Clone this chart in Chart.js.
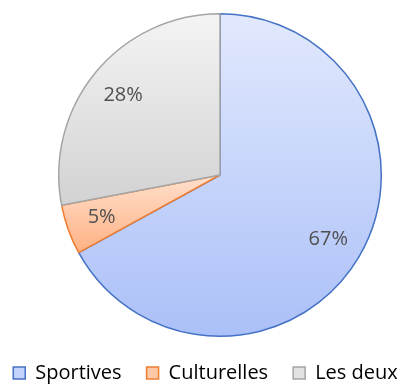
<!DOCTYPE html>
<html>
<head>
<meta charset="utf-8">
<script src="https://cdn.jsdelivr.net/npm/chart.js@4"></script>
<style>
  html, body { margin: 0; padding: 0; background: #ffffff; }
  #wrap { width: 401px; height: 384px; }
</style>
</head>
<body>
<div id="wrap"><canvas id="pieChart" width="401" height="384"></canvas></div>
<script>
const categories = ['Sportives', 'Culturelles', 'Les deux'];
const percentages = [67, 5, 28];

const borderColors = ['#4472c4', '#ed7d31', '#a5a5a5'];
const topColors = ['#e2e9fd', '#ffe0cd', '#f4f4f4'];
const bottomColors = ['#abc0f8', '#ffb183', '#d2d2d2'];
const legendFills = ['#c3d2fa', '#ffc9a8', '#e2e2e2'];

const FONT = '"Open Sans", sans-serif';
const TEXT_COLOR = '#595959';

// pie sits off-centre, legend runs under the whole width
const pieBox = { left: 58, top: 13, size: 324 };
const legendTop = 338;

function sliceAngles(i) {
    const total = percentages.reduce((a, b) => a + b, 0);
    let start = -Math.PI / 2;
    for (let k = 0; k < i; k++) start += percentages[k] / total * Math.PI * 2;
    return [start, start + percentages[i] / total * Math.PI * 2];
}

// vertical gradient over the bounding box of each slice
function sliceGradient(context) {
    const chart = context.chart;
    const area = chart.chartArea;
    if (!area) return legendFills[context.dataIndex];
    const i = context.dataIndex;
    const cx = (area.left + area.right) / 2;
    const cy = (area.top + area.bottom) / 2;
    const r = Math.min(area.width, area.height) / 2;
    const [a0, a1] = sliceAngles(i);
    let minY = cy, maxY = cy;
    for (let a = a0; a <= a1; a += 0.01) {
        const y = cy + r * Math.sin(a);
        minY = Math.min(minY, y);
        maxY = Math.max(maxY, y);
    }
    const y1 = cy + r * Math.sin(a1);
    minY = Math.min(minY, y1);
    maxY = Math.max(maxY, y1);
    const g = chart.ctx.createLinearGradient(0, minY, 0, maxY);
    g.addColorStop(0, topColors[i]);
    g.addColorStop(1, bottomColors[i]);
    return g;
}

const placePie = {
    id: 'placePie',
    afterLayout(chart) {
        const a = chart.chartArea;
        a.left = pieBox.left;
        a.top = pieBox.top;
        a.right = pieBox.left + pieBox.size;
        a.bottom = pieBox.top + pieBox.size;
        a.width = pieBox.size;
        a.height = pieBox.size;
        const h = chart.legend.bottom - chart.legend.top;
        chart.legend.top = legendTop;
        chart.legend.bottom = legendTop + h;
    }
};

const percentLabels = {
    id: 'percentLabels',
    afterDatasetsDraw(chart) {
        const ctx = chart.ctx;
        const meta = chart.getDatasetMeta(0);
        ctx.save();
        ctx.font = '20px ' + FONT;
        ctx.fillStyle = '#505050';
        ctx.textAlign = 'center';
        ctx.textBaseline = 'middle';
        meta.data.forEach((arc, i) => {
            const p = arc.getProps(['x', 'y', 'startAngle', 'endAngle', 'outerRadius'], true);
            const mid = (p.startAngle + p.endAngle) / 2;
            const d = p.outerRadius * 0.78;
            ctx.fillText(percentages[i] + '%', p.x + Math.cos(mid) * d, p.y + Math.sin(mid) * d);
        });
        ctx.restore();
    }
};

new Chart(document.getElementById('pieChart'), {
    type: 'pie',
    data: {
        labels: categories,
        datasets: [{
            data: percentages,
            backgroundColor: sliceGradient,
            borderColor: borderColors,
            borderWidth: 1.5
        }]
    },
    options: {
        responsive: false,
        animation: false,
        // wider than the canvas so the legend stays on one row
        layout: { padding: { left: -15, right: -25, top: 0, bottom: 0 } },
        plugins: {
            tooltip: { enabled: false },
            legend: {
                position: 'bottom',
                labels: {
                    boxWidth: 12,
                    boxHeight: 12,
                    padding: 25,
                    color: TEXT_COLOR,
                    font: { family: FONT, size: 20 },
                    generateLabels() {
                        return categories.map((c, i) => ({
                            text: c,
                            fillStyle: legendFills[i],
                            strokeStyle: borderColors[i],
                            lineWidth: 1.5,
                            index: i
                        }));
                    }
                }
            }
        }
    },
    plugins: [placePie, percentLabels]
});
</script>
</body>
</html>
